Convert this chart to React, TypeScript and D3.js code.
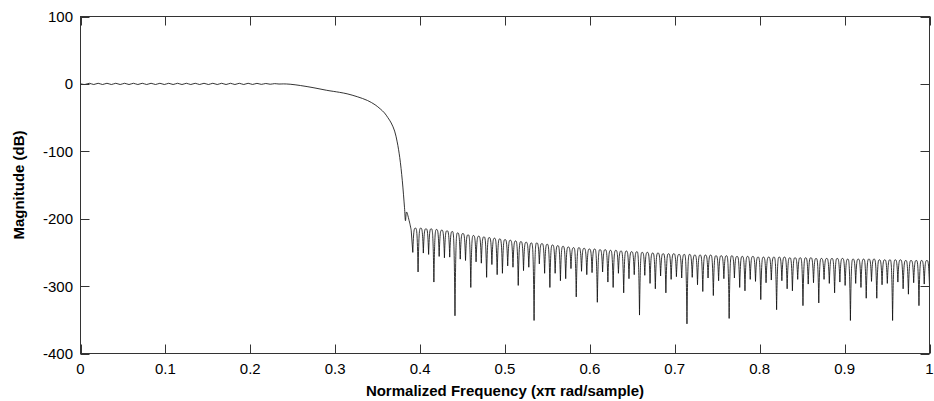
import React from 'react';
import * as d3 from 'd3';

// ---- data ----
const xTicks = [0, 0.1, 0.2, 0.3, 0.4, 0.5, 0.6, 0.7, 0.8, 0.9, 1];
const yTicks = [100, 0, -100, -200, -300, -400];

// passband ripple extremes (dB), evenly spread over [0, passbandEnd]
const passbandEnd = 0.239;
const passbandRipple = [
  0.2, -0.9, 0.9, -0.9, 0.9, -0.9, 0.9, -0.9, 0.9, -0.9, 0.9, -0.9, 0.9, -0.9, 0.9, -0.9,
  0.9, -0.9, 0.9, -0.9, 0.9, -0.9, 0.9, -0.9, 0.9, -0.9, 0.9, -0.9, 0.9, -0.9, 0.9, -0.9,
  0.9, -0.9, 0.9, -0.9, 0.9, -0.9, 0.9, -0.8, 0.8, -0.7, 0.6, -0.5, 0.4, -0.2, 0,
];

// transition band
const transitionFreq = [
  0.247, 0.259, 0.275, 0.29, 0.305, 0.314, 0.326, 0.338, 0.347, 0.353, 0.358, 0.362,
  0.366, 0.37, 0.373, 0.376, 0.379, 0.3816, 0.3828, 0.384, 0.3875, 0.3895,
];
const transitionDb = [
  -0.5, -2.4, -5.8, -9.5, -12.5, -14.7, -19, -24.6, -31, -37, -43, -50,
  -58, -70, -86, -109, -143, -183, -203, -190, -205, -217,
];

// stopband: lobe nulls (dB) and lobe peaks (dB), evenly spaced lobes
const stopbandStart = 0.3914;
const stopbandEnd = 1.0;
const stopbandNulls = [
  -250, -279, -251, -253, -294, -256, -258, -257, -344, -260,
  -262, -302, -264, -266, -287, -268, -283, -281, -270, -272,
  -299, -277, -272, -351, -267, -281, -302, -281, -292, -289,
  -274, -316, -278, -283, -280, -324, -279, -294, -302, -281,
  -310, -289, -283, -343, -284, -296, -304, -285, -310, -290,
  -286, -288, -356, -287, -298, -308, -288, -314, -292, -289,
  -348, -288, -302, -307, -290, -293, -320, -295, -291, -335,
  -292, -304, -307, -290, -329, -297, -295, -325, -290, -296,
  -310, -294, -299, -351, -296, -302, -318, -293, -318, -298,
  -296, -351, -294, -304, -312, -295, -329, -297, -300,
];
const stopbandPeaks = [
  -214, -214, -215, -215, -216, -217, -218, -219, -221, -222,
  -224, -225, -226, -227, -228, -229, -230, -231, -232, -233,
  -234, -235, -236, -236, -237, -238, -239, -240, -241, -242,
  -243, -243, -244, -245, -245, -246, -246, -247, -247, -248,
  -248, -249, -249, -250, -250, -251, -251, -252, -252, -252,
  -253, -253, -253, -254, -254, -254, -254, -255, -255, -255,
  -255, -256, -256, -256, -256, -257, -257, -257, -257, -257,
  -257, -258, -258, -258, -258, -258, -259, -259, -259, -259,
  -259, -259, -260, -260, -260, -260, -260, -260, -261, -261,
  -261, -261, -261, -262, -262, -262, -262, -262,
];

const xLabel = 'Normalized Frequency  (x\u03C0 rad/sample)';
const yLabel = 'Magnitude (dB)';

export default function App() {
  const W = 934;
  const H = 401;
  const left = 80.5, right = 929.5, top = 16.5, bottom = 353.5;
  const x = d3.scaleLinear().domain([0, 1]).range([left, right]);
  const y = d3.scaleLinear().domain([-400, 100]).range([bottom, top]);
  const font = "'Liberation Sans', Arial, Helvetica, sans-serif";
  const axisColor = '#333';
  const tickLen = 9;

  // passband + transition
  const pts: [number, number][] = passbandRipple.map((v, i) => [
    (i * passbandEnd) / (passbandRipple.length - 1),
    v,
  ]);
  transitionFreq.forEach((f, i) => pts.push([f, transitionDb[i]]));
  const lineGen = d3
    .line<[number, number]>()
    .x((d) => x(d[0]))
    .y((d) => y(d[1]))
    .curve(d3.curveCatmullRom.alpha(0.5));
  const passPath = lineGen(pts) || '';

  // stopband lobes
  const nLobes = stopbandPeaks.length;
  const step = (stopbandEnd - stopbandStart) / nLobes;
  const p = d3.path();
  const last = pts[pts.length - 1];
  p.moveTo(x(last[0]), y(last[1]));
  p.lineTo(x(stopbandStart), y(stopbandNulls[0]));
  for (let i = 0; i < nLobes; i++) {
    const fa = stopbandStart + i * step;
    const fb = fa + step;
    const xa = x(fa);
    const xb = x(fb);
    const xm = (xa + xb) / 2;
    const hw = (xb - xa) / 2;
    const yp = y(stopbandPeaks[i]);
    const yb = y(stopbandNulls[i + 1]);
    p.bezierCurveTo(xa + 0.32 * hw, yp, xm - 0.45 * hw, yp, xm, yp);
    p.bezierCurveTo(xm + 0.45 * hw, yp, xb - 0.32 * hw, yp, xb, yb);
  }
  const stopPath = p.toString();

  return (
    <svg
      width={W}
      height={H}
      style={{ position: 'absolute', left: 0, top: 0, background: '#fff' }}
      fontFamily={font}
    >
      <rect x={0} y={0} width={W} height={H} fill="#fff" />
      <defs>
        <clipPath id="plotclip">
          <rect x={left} y={top} width={right - left} height={bottom - top} />
        </clipPath>
      </defs>
      <g clipPath="url(#plotclip)" fill="none" stroke="#111" strokeWidth={0.85}>
        <path d={passPath} />
        <path d={stopPath} />
      </g>
      {/* box */}
      <rect
        x={left}
        y={top}
        width={right - left}
        height={bottom - top}
        fill="none"
        stroke={axisColor}
        strokeWidth={1}
      />
      {/* x ticks */}
      {xTicks.map((t) => (
        <g key={'x' + t}>
          <line x1={Math.round(x(t)) + 0.5} x2={Math.round(x(t)) + 0.5} y1={bottom} y2={bottom - tickLen} stroke={axisColor} />
          <line x1={Math.round(x(t)) + 0.5} x2={Math.round(x(t)) + 0.5} y1={top} y2={top + tickLen} stroke={axisColor} />
          <text x={x(t)} y={373.5} fontSize={15} textAnchor="middle" fill="#000">
            {String(t)}
          </text>
        </g>
      ))}
      {/* y ticks */}
      {yTicks.map((t) => (
        <g key={'y' + t}>
          <line x1={left} x2={left + tickLen} y1={Math.round(y(t)) + 0.5} y2={Math.round(y(t)) + 0.5} stroke={axisColor} />
          <line x1={right} x2={right - tickLen} y1={Math.round(y(t)) + 0.5} y2={Math.round(y(t)) + 0.5} stroke={axisColor} />
          <text x={73} y={y(t)} dy="0.36em" fontSize={15} textAnchor="end" fill="#000">
            {String(t)}
          </text>
        </g>
      ))}
      <text x={(left + right) / 2} y={396} fontSize={15} fontWeight="bold" textAnchor="middle" fill="#000">
        {xLabel}
      </text>
      <text
        transform={`translate(24, ${(top + bottom) / 2}) rotate(-90)`}
        fontSize={15}
        fontWeight="bold"
        textAnchor="middle"
        fill="#000"
      >
        {yLabel}
      </text>
    </svg>
  );
}
